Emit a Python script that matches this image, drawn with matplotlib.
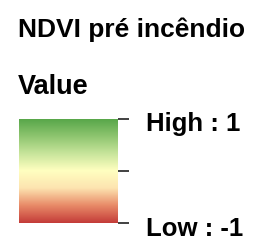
import numpy as np
import matplotlib.pyplot as plt
from matplotlib.colors import LinearSegmentedColormap

title = 'NDVI pré incêndio'
field = 'Value'
tick_labels = ['High : 1', 'Low : -1']
vmin, vmax = -1, 1
ramp = ['#c43c39', '#e88a68', '#fde4b0', '#ffffc0', '#c6e49a', '#8cc46e', '#55a548']

W, H = 255, 248
fig = plt.figure(figsize=(W / 100, H / 100), dpi=100)
plt.rcParams['font.family'] = ['Liberation Sans', 'DejaVu Sans']

def px(x, y):
    return x / W, 1 - y / H

fig.text(*px(18, 37), title, fontsize=19, fontweight='bold', va='baseline')
fig.text(*px(18, 93.5), field, fontsize=19.5, fontweight='bold', va='baseline')

# gradient box
x0, x1, y0, y1 = 19, 118, 119, 223
ax = fig.add_axes([x0 / W, 1 - y1 / H, (x1 - x0) / W, (y1 - y0) / H])
cmap = LinearSegmentedColormap.from_list('ndvi', ramp)
grad = np.linspace(vmin, vmax, 256).reshape(-1, 1)
ax.imshow(grad, aspect='auto', cmap=cmap, origin='lower', extent=[0, 1, vmin, vmax])
ax.set_xlim(0, 1)
ax.set_ylim(vmin, vmax)
for s in ax.spines.values():
    s.set_visible(False)
ax.set_xticks([])
ax.yaxis.tick_right()
ax.set_yticks([vmin, 0, vmax])
ax.set_yticklabels([])
ax.tick_params(axis='y', length=8, width=1.3, color='#333333')

fig.text(*px(146, 131.5), tick_labels[0], fontsize=18.5, fontweight='bold', va='baseline')
fig.text(*px(146, 236.5), tick_labels[1], fontsize=18.5, fontweight='bold', va='baseline')

fig.savefig('out.png', dpi=100)
